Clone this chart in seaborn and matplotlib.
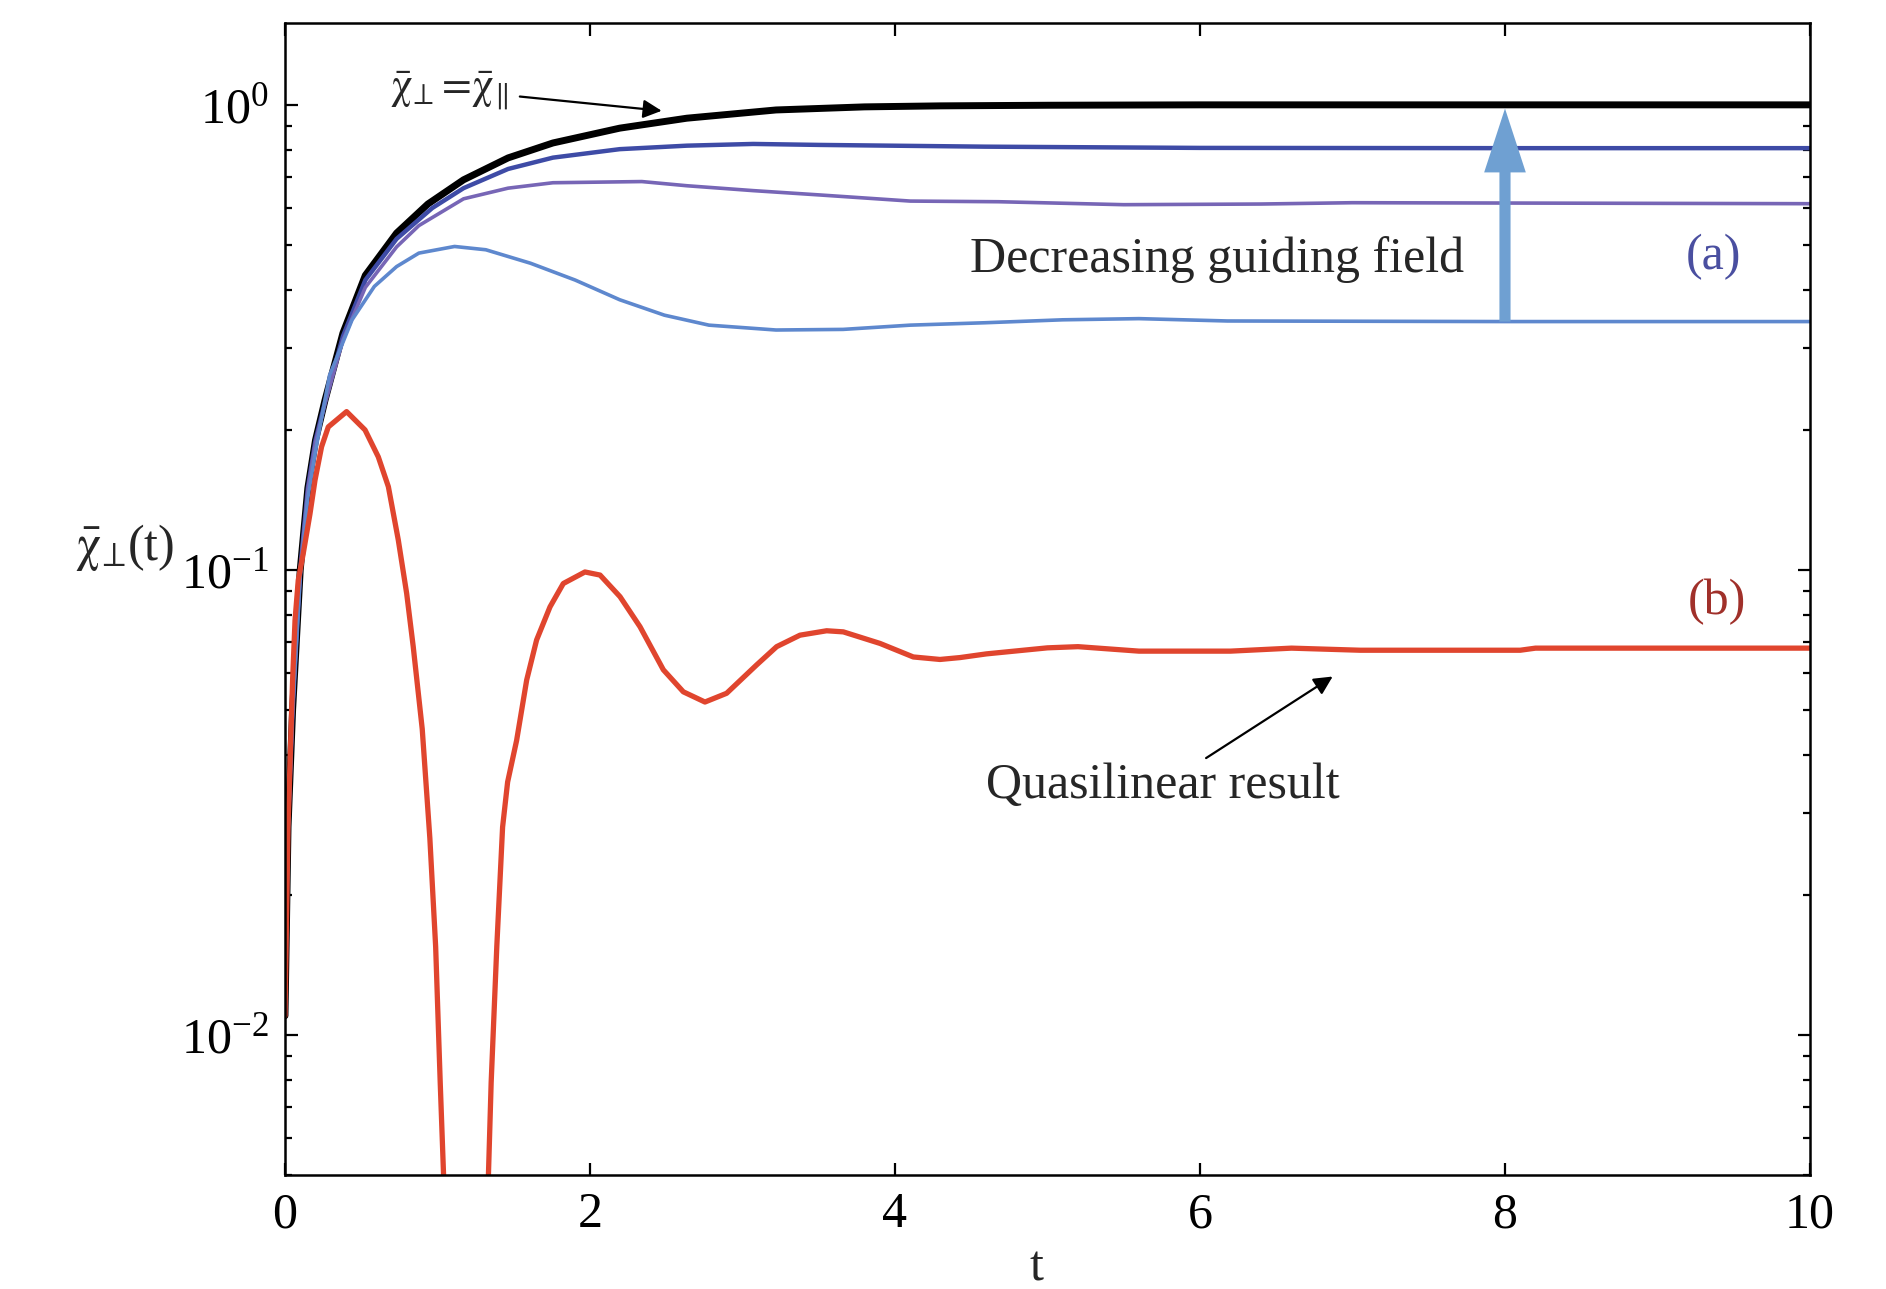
import numpy as np
import pandas as pd
import seaborn as sns
import matplotlib.pyplot as plt
from matplotlib.ticker import LogLocator, NullLocator, NullFormatter, FixedLocator

# curve (a): decreasing guiding field
t_black = [0.0, 0.02, 0.05, 0.1, 0.15, 0.2, 0.263, 0.38, 0.527, 0.732, 0.937, 1.171,
           1.463, 1.757, 2.195, 2.635, 3.22, 3.8, 4.3, 5.0, 6.0, 8.0, 10.0]
chi_black = [0.011, 0.028, 0.05, 0.1, 0.15, 0.19, 0.232, 0.323, 0.43, 0.53, 0.612, 0.69,
             0.769, 0.828, 0.891, 0.936, 0.975, 0.99, 0.995, 0.998, 1.0, 1.0, 1.0]

t_dblue = [0.0, 0.02, 0.05, 0.1, 0.15, 0.2, 0.263, 0.38, 0.527, 0.732, 0.966, 1.171,
           1.463, 1.757, 2.195, 2.635, 3.07, 3.51, 4.59, 6.0, 8.0, 10.0]
chi_dblue = [0.011, 0.028, 0.05, 0.1, 0.15, 0.19, 0.23, 0.318, 0.42, 0.515, 0.6, 0.662,
             0.728, 0.77, 0.803, 0.817, 0.824, 0.82, 0.813, 0.808, 0.807, 0.807]

t_purple = [0.0, 0.02, 0.05, 0.1, 0.15, 0.2, 0.263, 0.38, 0.527, 0.732, 0.878, 1.171,
            1.463, 1.757, 2.34, 2.635, 3.07, 3.51, 4.1, 4.68, 5.5, 6.4, 7.0, 8.0, 10.0]
chi_purple = [0.011, 0.028, 0.05, 0.1, 0.149, 0.188, 0.228, 0.312, 0.405, 0.495, 0.55,
              0.628, 0.662, 0.68, 0.684, 0.67, 0.654, 0.64, 0.621, 0.619, 0.61, 0.612,
              0.616, 0.615, 0.613]

t_lblue = [0.0, 0.02, 0.05, 0.1, 0.15, 0.2, 0.292, 0.44, 0.586, 0.732, 0.878, 1.112,
           1.317, 1.61, 1.903, 2.195, 2.488, 2.78, 3.22, 3.66, 4.1, 4.59, 5.1, 5.6, 6.18,
           8.0, 10.0]
chi_lblue = [0.011, 0.027, 0.05, 0.097, 0.143, 0.18, 0.262, 0.345, 0.407, 0.449, 0.48,
             0.496, 0.488, 0.4565, 0.42, 0.381, 0.353, 0.336, 0.328, 0.329, 0.336, 0.34,
             0.345, 0.347, 0.343, 0.342, 0.342]

# curve (b): quasilinear result
t_red = [0.0, 0.02, 0.05, 0.066, 0.087, 0.12, 0.164, 0.197, 0.24, 0.284, 0.404, 0.525,
         0.612, 0.678, 0.743, 0.798, 0.841, 0.9, 0.95, 0.988, 1.018, 1.045, 1.19, 1.33,
         1.352, 1.389, 1.427, 1.46, 1.519, 1.585, 1.65, 1.738, 1.825, 1.967, 2.066, 2.197,
         2.328, 2.481, 2.612, 2.754, 2.896, 3.093, 3.224, 3.377, 3.552, 3.661, 3.902, 4.12,
         4.295, 4.426, 4.6, 5.0, 5.2, 5.6, 6.2, 6.6, 7.05, 8.1, 8.2, 10.0]
chi_red = [0.011, 0.028, 0.058, 0.078, 0.095, 0.1086, 0.132, 0.156, 0.184, 0.203, 0.219,
           0.2, 0.175, 0.151, 0.116, 0.089, 0.0684, 0.0455, 0.0265, 0.0155, 0.0079, 0.0045,
           0.0005, 0.0045, 0.0079, 0.0155, 0.028, 0.035, 0.043, 0.058, 0.0707, 0.0833,
           0.0935, 0.099, 0.0975, 0.0876, 0.0755, 0.061, 0.0547, 0.052, 0.0543, 0.0625,
           0.0684, 0.0724, 0.074, 0.0736, 0.0695, 0.065, 0.0642, 0.0648, 0.066, 0.068,
           0.0684, 0.0669, 0.0669, 0.0679, 0.0672, 0.0672, 0.0679, 0.0679]

curves = [
    (t_black, chi_black, '#000000', 5.0),
    (t_dblue, chi_dblue, '#3E4BA6', 3.2),
    (t_purple, chi_purple, '#7766B6', 2.6),
    (t_lblue, chi_lblue, '#5E88CE', 2.6),
    (t_red, chi_red, '#E0452E', 3.8),
]

sns.set_style('ticks')
plt.rcParams['font.family'] = ['Liberation Serif', 'DejaVu Serif']
plt.rcParams['mathtext.fontset'] = 'stix'

fig = plt.figure(figsize=(18.86, 12.89), dpi=100)
ax = fig.add_axes([0.1511, 0.0884, 0.8086, 0.8938])

for t, chi, col, lw in curves:
    df = pd.DataFrame({'t': t, 'chi': chi})
    sns.lineplot(data=df, x='t', y='chi', ax=ax, color=col, lw=lw,
                 estimator=None, sort=False)

ax.set_yscale('log')
ax.set_xlim(0, 10)
ax.set_ylim(0.005, 1.5)

ax.xaxis.set_major_locator(FixedLocator([0, 2, 4, 6, 8, 10]))
ax.xaxis.set_minor_locator(NullLocator())
ax.yaxis.set_major_locator(LogLocator(base=10))
ax.yaxis.set_minor_locator(LogLocator(base=10, subs=np.arange(2, 10)))
ax.yaxis.set_minor_formatter(NullFormatter())

ax.tick_params(which='both', direction='in', top=True, right=True, width=1.6,
               labelsize=36, colors='black')
ax.tick_params(which='major', length=9)
ax.tick_params(which='minor', length=5)
ax.tick_params(axis='x', pad=12)
ax.tick_params(axis='y', pad=12)
for sp in ax.spines.values():
    sp.set_linewidth(1.8)
    sp.set_color('black')

ax.set_xlabel('t', fontsize=36, va='center')
ax.xaxis.set_label_coords(0.493, -0.081)
ax.set_ylabel(r'$\bar{\mathrm{\chi}}_{\!\perp}\!$(t)', fontsize=36, rotation=0,
              ha='center', va='center')
ax.yaxis.set_label_coords(-0.105, 0.545)

# annotations
ax.text(0.69, 1.07, r'$\bar{\mathrm{\chi}}_{\!\perp}\!=\!\bar{\mathrm{\chi}}_{\!\parallel}$',
        fontsize=31, ha='left', va='center')
ax.annotate('', xy=(2.47, 0.971), xytext=(1.54, 1.042),
            arrowprops=dict(arrowstyle='-|>', color='black', lw=1.6,
                            mutation_scale=28, shrinkA=0, shrinkB=0))

ax.annotate('', xy=(8.0, 0.982), xytext=(8.0, 0.342),
            arrowprops=dict(arrowstyle='simple,head_width=3.0,head_length=4.6,tail_width=0.8',
                            color='#6FA0D2', mutation_scale=10, shrinkA=0, shrinkB=0, lw=0))

ax.text(4.49, 0.466, 'Decreasing guiding field', fontsize=36, ha='left', va='center')
ax.text(9.37, 0.472, '(a)', fontsize=36, ha='center', va='center', color='#4A4FA0')
ax.text(9.39, 0.0854, '(b)', fontsize=36, ha='center', va='center', color='#A0302A')

ax.annotate('', xy=(6.87, 0.059), xytext=(6.04, 0.0394),
            arrowprops=dict(arrowstyle='-|>', color='black', lw=1.6,
                            mutation_scale=28, shrinkA=0, shrinkB=0))
ax.text(4.6, 0.0343, 'Quasilinear result', fontsize=36, ha='left', va='center')

fig.savefig('out.png', dpi=100)
